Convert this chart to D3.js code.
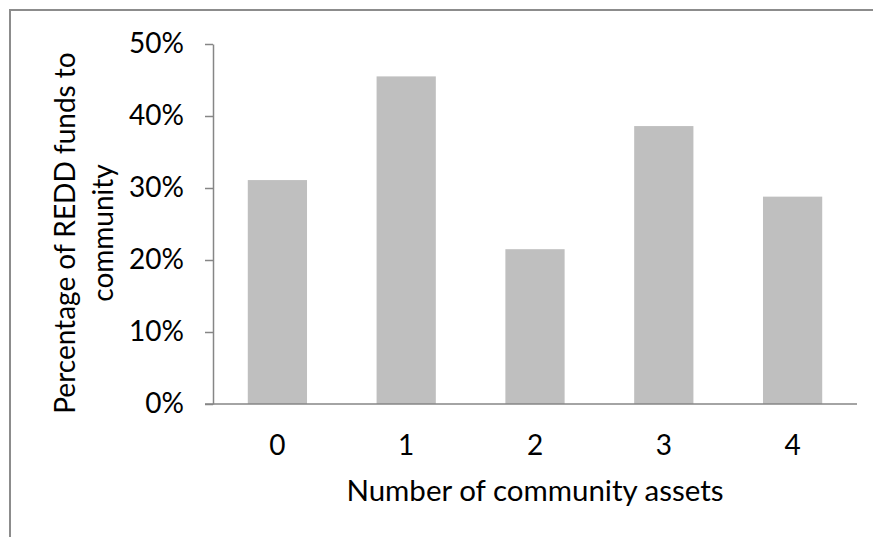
<!DOCTYPE html>
<html>
<head>
<meta charset="utf-8">
<script src="https://cdn.jsdelivr.net/npm/d3@7"></script>
<style>
  html, body { margin: 0; padding: 0; background: #fff; }
  svg { display: block; }
  text { font-family: Lato, "Open Sans", sans-serif; fill: #000; }
</style>
</head>
<body>
<svg id="chart" width="873" height="537"></svg>
<script>
// Share of REDD funds reaching the community, by number of community assets
const categories = ["0", "1", "2", "3", "4"];
const shares = [0.311, 0.455, 0.215, 0.386, 0.288];
const yTicks = [0, 0.1, 0.2, 0.3, 0.4, 0.5];
const xTitle = "Number of community assets";
const yTitleLines = ["Percentage of REDD funds to", "community"];

const svg = d3.select("#chart");
const W = 873, H = 537;

// outer chart frame (extends past the right and bottom edges)
svg.append("rect")
  .attr("x", 10).attr("y", 10)
  .attr("width", W + 20).attr("height", H + 20)
  .attr("fill", "none")
  .attr("stroke", "#8c8c8c")
  .attr("stroke-width", 2);

const plot = { left: 213, right: 857, top: 44, bottom: 404 };

const x = d3.scaleBand()
  .domain(categories)
  .range([plot.left, plot.right])
  .paddingInner(0.54)
  .paddingOuter(0.27);

const y = d3.scaleLinear()
  .domain([0, 0.5])
  .range([plot.bottom, plot.top]);

// bars
svg.append("g")
  .selectAll("rect")
  .data(categories.map((c, i) => ({ c, v: shares[i] })))
  .join("rect")
  .attr("x", d => x(d.c))
  .attr("y", d => y(d.v))
  .attr("width", x.bandwidth())
  .attr("height", d => y(0) - y(d.v))
  .attr("fill", "#bfbfbf");

const axisColor = "#868686";
const fontSize = 28;

// y axis
const yAxis = svg.append("g")
  .attr("transform", `translate(${plot.left},0)`)
  .call(d3.axisLeft(y).tickValues(yTicks).tickFormat(d3.format(".0%"))
    .tickSizeInner(8).tickSizeOuter(0).tickPadding(21));
yAxis.select(".domain").attr("stroke", axisColor).attr("stroke-width", 1.5);
yAxis.selectAll(".tick line").attr("stroke", axisColor).attr("stroke-width", 1.5);
yAxis.selectAll(".tick text")
  .attr("font-size", fontSize)
  .attr("font-family", "Lato, sans-serif")
  .attr("fill", "#000");

// x axis (baseline only, no ticks)
const xAxis = svg.append("g")
  .attr("transform", `translate(0,${plot.bottom})`)
  .call(d3.axisBottom(x).tickSize(0).tickPadding(31));
xAxis.select(".domain")
  .attr("d", `M${plot.left - 8},0H${plot.right}`)
  .attr("stroke", axisColor).attr("stroke-width", 1.5);
xAxis.selectAll(".tick text")
  .attr("font-size", fontSize)
  .attr("font-family", "Lato, sans-serif")
  .attr("fill", "#000");

// axis titles
svg.append("text")
  .attr("x", 535)
  .attr("y", 501)
  .attr("text-anchor", "middle")
  .attr("font-size", 29.5)
  .text(xTitle);

const yt = svg.append("text")
  .attr("transform", "translate(0,233) rotate(-90)")
  .attr("text-anchor", "middle")
  .attr("font-size", fontSize);
yt.selectAll("tspan")
  .data(yTitleLines)
  .join("tspan")
  .attr("x", 0)
  .attr("y", (d, i) => 75 + i * 38)
  .text(d => d);
</script>
</body>
</html>
